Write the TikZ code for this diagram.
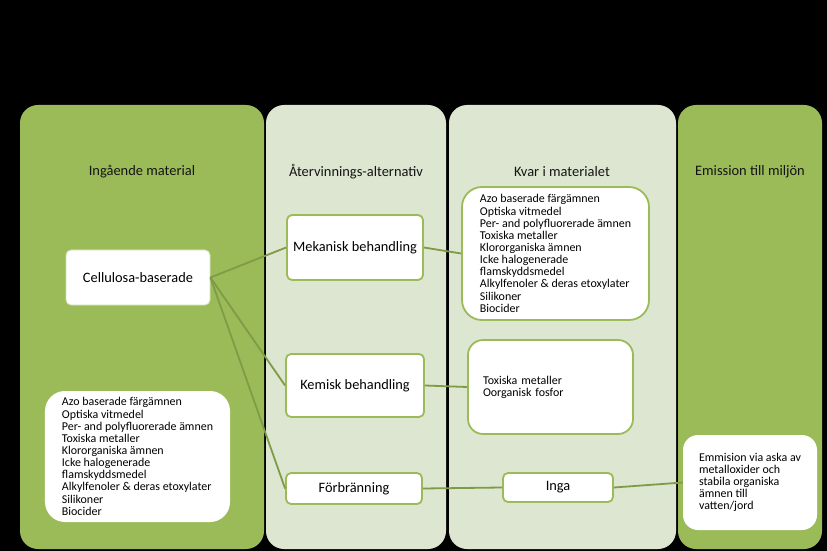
\documentclass[tikz,border=0pt]{standalone}
\usepackage{fontspec}
\setmainfont{Carlito}
\usepackage{tikz}
\usetikzlibrary{positioning}
\definecolor{colgreen}{HTML}{9BBB59}
\definecolor{collight}{HTML}{DDE6D1}
\definecolor{linegreen}{HTML}{7F9B45}
\definecolor{headtext}{HTML}{141414}

\begin{document}
\begin{tikzpicture}[x=1bp, y=-1bp,
    column/.style={rounded corners=18bp},
    header/.style={font=\fontsize{14.5}{16}\selectfont, text=headtext},
    stepbox/.style={draw=colgreen, fill=white, line width=1.8bp, rounded corners=5bp, inner sep=0pt, font=\fontsize{14.4}{16}\selectfont},
    listbox/.style={fill=white, align=left, inner sep=0pt, font=\fontsize{12}{12.2}\selectfont},
    link/.style={draw=linegreen, line width=1.8bp}]
    % Background and columns
    \fill[black] (0,0) rectangle (827,551);
    \useasboundingbox (0,0) rectangle (827,551);
    \fill[colgreen, column] (20,105) rectangle (264,549);
    \fill[collight, column] (266,105) rectangle (446,549);
    \fill[collight, column] (449,105) rectangle (676,549);
    \fill[colgreen, column] (678,105) rectangle (822,549);

    % Headers
    \node[header] (hin) at (142,172) {Ingående material};
    \node[header] (halt) at (356,172) {Återvinnings-alternativ};
    \node[header] (hkvar) at (562,172) {Kvar i materialet};
    \node[header] (hemis) at (750,172) {Emission till miljön};

    % Nodes
    \node[stepbox, draw=colgreen!45, line width=0.8bp, minimum width=144bp, minimum height=55bp] (cell) at (138,277.5) {Cellulosa-baserade};

    \node[listbox, rounded corners=20bp, minimum width=185bp, minimum height=131bp] (inlist) at (137.5,456.5) {Azo baserade färgämnen\\ Optiska vitmedel\\ Per- and polyfluorerade ämnen\\ Toxiska metaller\\ Klororganiska ämnen\\ Icke halogenerade\\ flamskyddsmedel\\ Alkylfenoler \& deras etoxylater\\ Silikoner\\ Biocider};

    \node[stepbox, minimum width=136bp, minimum height=65bp] (mek) at (355,247.5) {Mekanisk behandling};

    \node[stepbox, minimum width=138bp, minimum height=63bp] (kem) at (355,385.5) {Kemisk behandling};

    \node[stepbox, minimum width=136bp, minimum height=31bp] (forb) at (354,488.5) {Förbränning};

    \node[listbox, draw=colgreen, line width=1.8bp, rounded corners=20bp, minimum width=187bp, minimum height=133bp] (kvarlist) at (555.5,253.5) {Azo baserade färgämnen\\ Optiska vitmedel\\ Per- and polyfluorerade ämnen\\ Toxiska metaller\\ Klororganiska ämnen\\ Icke halogenerade\\ flamskyddsmedel\\ Alkylfenoler \& deras etoxylater\\ Silikoner\\ Biocider};

    \node[listbox, draw=colgreen, line width=1.8bp, rounded corners=15bp, text width=135bp, inner xsep=15bp, minimum height=94bp] (kvartox) at (550.5,387) {Toxiska metaller\\ Oorganisk fosfor};

    \node[stepbox, minimum width=110bp, minimum height=29bp] (inga) at (558,487.5) {Inga};

    \node[listbox, rounded corners=15bp, minimum width=134bp, minimum height=95bp] (emis) at (750,482.5) {Emmision via aska av\\ metalloxider och\\ stabila organiska\\ ämnen till\\ vatten/jord};

    % Paths
    \draw[link] (cell.east) -- (mek.west);
    \draw[link] (cell.east) -- (kem.west);
    \draw[link] (cell.east) -- (forb.west);
    \draw[link] (mek.east) -- (kvarlist.west);
    \draw[link] (kem.east) -- (kvartox.west);
    \draw[link] (forb.east) -- (inga.west);
    \draw[link] (inga.east) -- (emis.west);
\end{tikzpicture}
\end{document}
